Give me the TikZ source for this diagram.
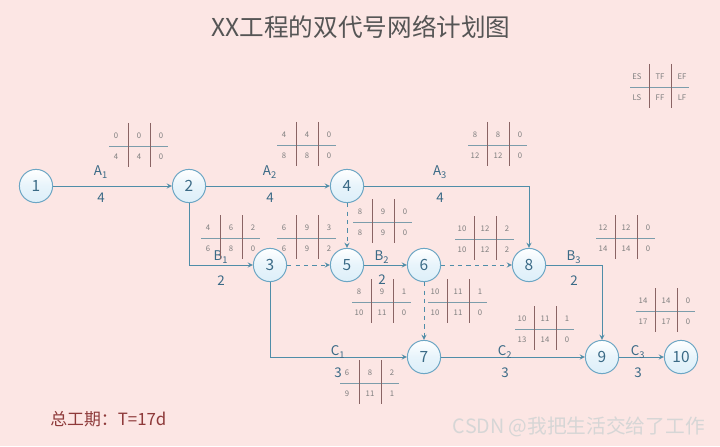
\documentclass[tikz,border=0pt]{standalone}
\usepackage{fontspec}
\setmainfont{Noto Sans CJK SC}
\usepackage{xcolor}
\usetikzlibrary{positioning}
\definecolor{bgpink}{HTML}{FCE6E4}
\definecolor{flowblue}{HTML}{4F8DA8}
\definecolor{ringblue}{HTML}{6CA6C4}
\definecolor{ballblue}{HTML}{DDEFF9}
\definecolor{numblue}{HTML}{3A6A86}
\definecolor{cellgray}{HTML}{7E7E7E}
\definecolor{hline}{HTML}{7C9DAB}
\definecolor{vline}{HTML}{8A6464}
\definecolor{titlegray}{HTML}{555555}
\definecolor{totalred}{HTML}{8E3A3A}

\tikzset{
  event/.style={circle, draw=ringblue, line width=0.7pt, top color=white, bottom color=ballblue, middle color=ballblue!70!white, minimum size=0.83cm, inner sep=0pt, text=numblue, font=\fontsize{11}{13}\selectfont},
  flow/.style={draw=flowblue, line width=0.65pt, -stealth},
  dummy/.style={flow, dashed},
  lbl/.style={text=numblue, font=\fontsize{9.5}{11}\selectfont, inner sep=0pt},
  cell/.style={text=cellgray, font=\fontsize{5.5}{6}\selectfont, inner sep=0pt},
  pics/tgrid/.style n args={6}{code={
    \draw[hline, line width=0.65pt] (-30,0) -- (29,0);
    \draw[vline, line width=0.65pt] (-11,-23) -- (-11,21) (11,-23) -- (11,21);
    \node[cell] (-es) at (-23,-10) {#1};
    \node[cell] (-tf) at (0,-10) {#2};
    \node[cell] (-ef) at (22,-10) {#3};
    \node[cell] (-ls) at (-23,11) {#4};
    \node[cell] (-ff) at (0,11) {#5};
    \node[cell] (-lf) at (22,11) {#6};
  }}
}

\begin{document}
\begin{tikzpicture}[x=0.025cm, y=-0.025cm]
  \fill[bgpink] (0,0) rectangle (720,446);
  \useasboundingbox (0,0) rectangle (720,446);

  \node (title) at (361,27) [text=titlegray, font=\fontsize{17.5}{20}\selectfont] {XX工程的双代号网络计划图};

  % events
  \node (n1)[event] at (36,186) {1};
  \node (n2)[event] at (189,186) {2};
  \node (n4)[event] at (347,186) {4};
  \node (n3)[event] at (270,265) {3};
  \node (n5)[event] at (347,265) {5};
  \node (n6)[event] at (424,265) {6};
  \node (n8)[event] at (529,265) {8};
  \node (n7)[event] at (424,357) {7};
  \node (n9)[event] at (602,357) {9};
  \node (n10)[event] at (681,357) {10};

  % works
  \draw [flow] (n1) -- (n2);
  \draw [flow] (n2) -- (n4);
  \draw [flow] (n4) -| (n8);
  \draw [flow] (n2) |- (n3);
  \draw [dummy] (n3) -- (n5);
  \draw [dummy] (n4) -- (n5);
  \draw [flow] (n5) -- (n6);
  \draw [dummy] (n6) -- (n8);
  \draw [flow] (n8) -| (n9);
  \draw [flow] (n3) |- (n7);
  \draw [dummy] (n6) -- (n7);
  \draw [flow] (n7) -- (n9);
  \draw [flow] (n9) -- (n10);

  % work names and durations
  \node (A1)[lbl] at (101,172) {A\textsubscript{1}};
  \node (tA1)[lbl] at (101,198) {4};
  \node (A2)[lbl] at (270,172) {A\textsubscript{2}};
  \node (tA2)[lbl] at (270,198) {4};
  \node (A3)[lbl] at (440,172) {A\textsubscript{3}};
  \node (tA3)[lbl] at (440,198) {4};
  \node (B1)[lbl] at (221,257) {B\textsubscript{1}};
  \node (tB1)[lbl] at (221,281) {2};
  \node (B2)[lbl] at (382,257) {B\textsubscript{2}};
  \node (tB2)[lbl] at (382,280) {2};
  \node (B3)[lbl] at (574,257) {B\textsubscript{3}};
  \node (tB3)[lbl] at (574,281) {2};
  \node (C1)[lbl] at (338,352) {C\textsubscript{1}};
  \node (tC1)[lbl] at (338,373) {3};
  \node (C2)[lbl] at (505,352) {C\textsubscript{2}};
  \node (tC2)[lbl] at (505,373) {3};
  \node (C3)[lbl] at (638,352) {C\textsubscript{3}};
  \node (tC3)[lbl] at (638,373) {3};

  % time parameters
  \pic (key) at (660,87) {tgrid={ES}{TF}{EF}{LS}{FF}{LF}};
  \pic (p12) at (139,146) {tgrid={0}{0}{0}{4}{4}{0}};
  \pic (p24) at (307,145) {tgrid={4}{4}{0}{8}{8}{0}};
  \pic (p48) at (498,145) {tgrid={8}{8}{0}{12}{12}{0}};
  \pic (p23) at (231,238) {tgrid={4}{6}{2}{6}{8}{0}};
  \pic (p35) at (307,238) {tgrid={6}{9}{3}{6}{9}{2}};
  \pic (p45) at (383,222) {tgrid={8}{9}{0}{8}{9}{0}};
  \pic (p68) at (485,239) {tgrid={10}{12}{2}{10}{12}{2}};
  \pic (p56) at (382,302) {tgrid={8}{9}{1}{10}{11}{0}};
  \pic (p67) at (458,302) {tgrid={10}{11}{1}{10}{11}{0}};
  \pic (p89) at (626,238) {tgrid={12}{12}{0}{14}{14}{0}};
  \pic (p910) at (666,311) {tgrid={14}{14}{0}{17}{17}{0}};
  \pic (p79) at (545,329) {tgrid={10}{11}{1}{13}{14}{0}};
  \pic (p37) at (370,383) {tgrid={6}{8}{2}{9}{11}{1}};

  \node (total)[anchor=west, inner sep=0pt, text=totalred, font=\fontsize{12}{14}\selectfont] at (50,419) {总工期：T=17d};
  \node (mark)[anchor=east, inner sep=0pt, text=white!68!gray, font=\fontsize{14}{16}\selectfont] at (705,427) {CSDN @我把生活交给了工作};
\end{tikzpicture}
\end{document}
